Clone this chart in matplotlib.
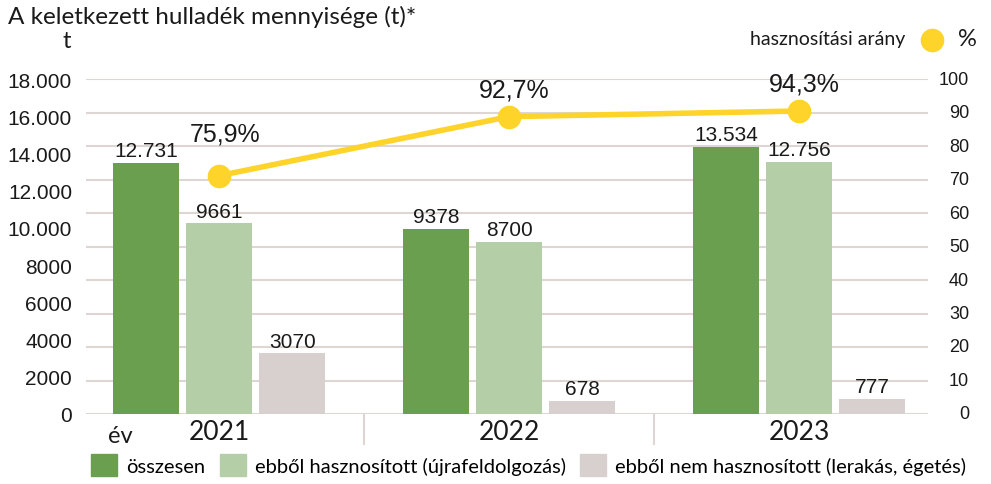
import matplotlib
matplotlib.use("Agg")
import matplotlib.pyplot as plt
import matplotlib.transforms as mtransforms
from matplotlib.patches import Patch
import numpy as np

# adatok
evek = ["2021", "2022", "2023"]
osszesen = [12731, 9378, 13534]
hasznositott = [9661, 8700, 12756]
nem_hasznositott = [3070, 678, 777]
arany = [75.9, 92.7, 94.3]
arany_felirat = ["75,9%", "92,7%", "94,3%"]

bal_tickek = [0, 2000, 4000, 6000, 8000, 10000, 12000, 14000, 16000, 18000]
jobb_tickek = list(range(0, 101, 10))

SOTET = "#6a9f4f"
VILAGOS = "#b4cfa7"
SZURKE = "#d8d0ce"
SARGA = "#ffd42a"
RACS = "#ddd6d3"
SZOVEG = "#1a1a1a"
CIMFONT = "Lato"
SZAMFONT = "Liberation Sans"


def ezres(v):
    if v >= 10000:
        return f"{v:,}".replace(",", ".")
    return str(v)


fig = plt.figure(figsize=(9.91, 4.85), dpi=100)
ax = fig.add_axes([86 / 991, 70 / 485, 842 / 991, 335 / 485])

x = np.arange(len(evek))
sz = 0.228
elt = 0.252

# bal tengely (csak feliratok)
ax.set_ylim(0, 18000)
ax.set_xlim(-0.459, 2.445)
ax.set_yticks(bal_tickek)
ax.set_yticklabels([ezres(t) for t in bal_tickek], fontfamily=SZAMFONT,
                   fontsize=15, color=SZOVEG)
ax.tick_params(axis="y", length=0, pad=10)
ax.set_xticks([])
for s in ax.spines.values():
    s.set_visible(False)

# jobb tengely + racs
axr = ax.twinx()
axr.set_ylim(0, 100)
axr.set_yticks(jobb_tickek)
axr.set_yticklabels([])
axr.tick_params(axis="y", length=0)
axr.grid(axis="y", color=RACS, lw=1.5)
axr.set_axisbelow(True)
for s in axr.spines.values():
    s.set_visible(False)
trr = mtransforms.blended_transform_factory(fig.transFigure, axr.transData)
for t in jobb_tickek:
    axr.text(969 / 991, t, str(t), transform=trr, ha="right", va="center",
             fontfamily=SZAMFONT, fontsize=13, color=SZOVEG)

# oszlopok
axb = ax.twinx()
axb.set_ylim(0, 16970)
axb.axis("off")
sorok = [(osszesen, SOTET, -elt), (hasznositott, VILAGOS, 0), (nem_hasznositott, SZURKE, elt)]
for ertekek, szin, d in sorok:
    oszl = axb.bar(x + d, ertekek, width=sz, color=szin, zorder=2)
    for r, v in zip(oszl, ertekek):
        axb.annotate(ezres(v), (r.get_x() + r.get_width() / 2, v),
                     xytext=(0, 2), textcoords="offset points",
                     ha="center", va="bottom", fontfamily=SZAMFONT,
                     fontsize=15, color=SZOVEG)

# hasznositasi arany vonal
axl = ax.twinx()
axl.set_ylim(8.13, 103.4)
axl.axis("off")
axl.plot(x, arany, color=SARGA, lw=4, marker="o", ms=16, zorder=3,
         solid_capstyle="round")
for xi, v, f, dy in zip(x, arany, arany_felirat, [22, 11, 11]):
    axl.annotate(f, (xi, v), xytext=(4, dy), textcoords="offset points",
                 ha="center", va="bottom", fontfamily=SZAMFONT,
                 fontsize=18, color=SZOVEG)

# evek es elvalasztok
tr = mtransforms.blended_transform_factory(ax.transData, ax.transAxes)
for xi, ev in zip(x, evek):
    ax.text(xi, -0.052, ev, transform=tr, ha="center", va="center",
            fontfamily=CIMFONT, fontsize=19, color=SZOVEG)
for xs in [0.5, 1.5]:
    ax.plot([xs, xs], [0, -0.09], transform=tr, color=RACS, lw=1.5,
            clip_on=False)

fig.text(108 / 991, 1 - 437 / 485, "év", ha="left", va="center",
         fontfamily=CIMFONT, fontsize=17, color=SZOVEG)

# cim
fig.text(8 / 991, 1 - 17 / 485, "A keletkezett hulladék mennyisége (t)*",
         ha="left", va="center", fontfamily=CIMFONT, fontsize=17.5, color=SZOVEG)
fig.text(67 / 991, 1 - 42 / 485, "t", ha="center", va="center",
         fontfamily=CIMFONT, fontsize=17, color=SZOVEG)

# jobb felso jelmagyarazat
fig.text(905 / 991, 1 - 40 / 485, "hasznosítási arány", ha="right",
         va="center", fontfamily=CIMFONT, fontsize=14, color=SZOVEG)
fig.add_artist(plt.Line2D([932 / 991], [1 - 41 / 485], marker="o", ms=16,
                          color=SARGA, transform=fig.transFigure))
fig.text(967 / 991, 1 - 40 / 485, "%", ha="center", va="center",
         fontfamily=CIMFONT, fontsize=17, color=SZOVEG)

# also jelmagyarazat
kezelok = [Patch(color=SOTET), Patch(color=VILAGOS), Patch(color=SZURKE)]
nevek = ["összesen", "ebből hasznosított (újrafeldolgozás)",
         "ebből nem hasznosított (lerakás, égetés)"]
fig.legend(kezelok, nevek, loc="center left", bbox_to_anchor=(73 / 991, 1 - 466 / 485),
           ncol=3, frameon=False, handlelength=1.3, handleheight=1.3,
           handletextpad=0.45, columnspacing=0.7,
           prop={"family": CIMFONT, "size": 14.5})

fig.savefig("out.png", dpi=100)
